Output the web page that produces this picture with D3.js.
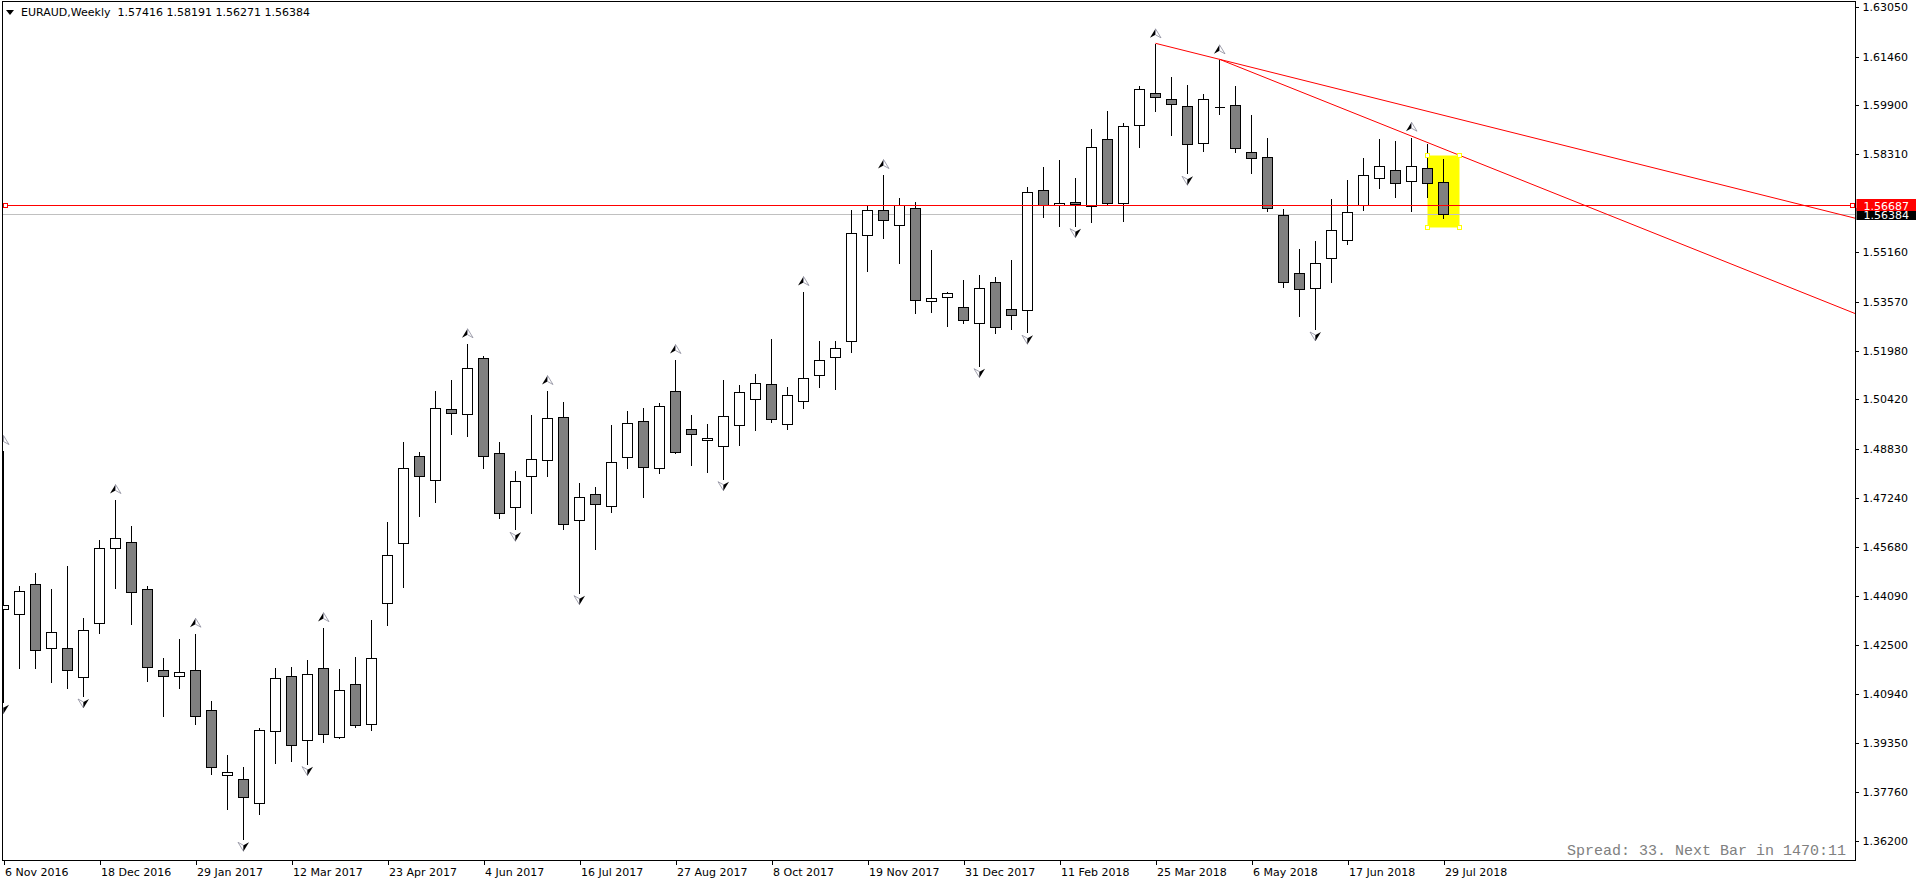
<!DOCTYPE html>
<html><head><meta charset="utf-8">
<script src="https://cdn.jsdelivr.net/npm/d3@7"></script>
<style>
html,body{margin:0;padding:0;background:#fff;overflow:hidden}
svg{display:block}
text{font-family:"DejaVu Sans",sans-serif;font-size:11px}
</style></head><body>
<script>
// ---------- data ----------
const titleText = "EURAUD,Weekly  1.57416 1.58191 1.56271 1.56384";
const spreadText = "Spread: 33. Next Bar in 1470:11";
const xTickIndex = [0,6,12,18,24,30,36,42,48,54,60,66,72,78,84,90];
const xTickLabels = ["6 Nov 2016","18 Dec 2016","29 Jan 2017","12 Mar 2017","23 Apr 2017","4 Jun 2017","16 Jul 2017","27 Aug 2017","8 Oct 2017","19 Nov 2017","31 Dec 2017","11 Feb 2018","25 Mar 2018","6 May 2018","17 Jun 2018","29 Jul 2018"];
const yTickValues = [1.63050,1.61460,1.59900,1.58310,1.55160,1.53570,1.51980,1.50420,1.48830,1.47240,1.45680,1.44090,1.42500,1.40940,1.39350,1.37760,1.36200];

const open  = [1.43660,1.43498,1.44465,1.42423,1.42403,1.41488,1.43208,1.45624,1.45817,1.44304,1.41695,1.41501,1.41695,1.40406,1.38312,1.38184,1.37436,1.39727,1.41498,1.39437,1.41762,1.39543,1.41244,1.39955,1.43856,1.45789,1.48584,1.47811,1.50101,1.49940,1.51747,1.48684,1.46945,1.47943,1.48459,1.49844,1.46526,1.47364,1.46977,1.48555,1.49715,1.48201,1.50681,1.49457,1.49103,1.48910,1.49586,1.50424,1.50907,1.49618,1.50359,1.51197,1.51776,1.52292,1.55706,1.56511,1.56028,1.56576,1.53580,1.53709,1.53387,1.52872,1.54192,1.53322,1.53290,1.57155,1.56672,1.56769,1.56640,1.58798,1.56756,1.59249,1.60280,1.60087,1.59861,1.58669,1.59829,1.59893,1.58379,1.58218,1.56350,1.54482,1.53999,1.54965,1.55545,1.56682,1.57542,1.57800,1.57445,1.57864,1.57416];
const high  = [1.48790,1.44442,1.44851,1.44336,1.45086,1.43402,1.45924,1.47212,1.46375,1.44442,1.42123,1.42735,1.42906,1.40738,1.38999,1.38612,1.39865,1.41798,1.41830,1.42062,1.43086,1.41772,1.42152,1.43350,1.46500,1.49077,1.48755,1.50723,1.51081,1.52231,1.51837,1.49080,1.48146,1.49950,1.50723,1.50369,1.47750,1.47621,1.49628,1.50079,1.50176,1.50337,1.51722,1.49950,1.49660,1.51077,1.50907,1.51271,1.52398,1.50842,1.53912,1.52334,1.52334,1.56553,1.56704,1.57680,1.56930,1.56801,1.55265,1.53902,1.54298,1.54459,1.54385,1.54943,1.57284,1.57938,1.58164,1.57584,1.59162,1.59742,1.59355,1.60547,1.61890,1.60837,1.60579,1.60280,1.61375,1.60547,1.59613,1.58872,1.56576,1.55297,1.55555,1.56898,1.57519,1.58228,1.58840,1.58776,1.58882,1.58689,1.58191];
const low   = [1.40683,1.41759,1.41759,1.41327,1.41134,1.40867,1.42886,1.44355,1.43196,1.41360,1.40232,1.41134,1.39955,1.38354,1.37217,1.36251,1.37079,1.38725,1.38783,1.38689,1.39382,1.39520,1.39875,1.39785,1.43141,1.44384,1.46674,1.47122,1.49319,1.49251,1.48204,1.46590,1.46236,1.46771,1.47963,1.46236,1.44194,1.45611,1.46803,1.48220,1.47286,1.48059,1.48684,1.48317,1.48092,1.47866,1.48942,1.49444,1.49702,1.49476,1.50134,1.50829,1.50765,1.51937,1.54566,1.55629,1.54823,1.53193,1.53226,1.52775,1.52872,1.51506,1.52569,1.52678,1.52582,1.56305,1.56015,1.56015,1.56144,1.56700,1.56176,1.58560,1.59719,1.58946,1.57703,1.58431,1.59623,1.58399,1.57722,1.56498,1.54031,1.53116,1.52688,1.54211,1.55416,1.56521,1.57239,1.56949,1.56498,1.56949,1.56271];
const close = [1.43788,1.44239,1.42339,1.42919,1.41695,1.42983,1.45624,1.45946,1.44226,1.41811,1.41501,1.41630,1.40213,1.38570,1.38419,1.37604,1.39759,1.41463,1.39276,1.41566,1.39633,1.41047,1.39920,1.42084,1.45396,1.48204,1.47940,1.50159,1.49976,1.51425,1.48584,1.46752,1.47782,1.48491,1.49811,1.46397,1.47267,1.47041,1.48394,1.49650,1.48233,1.50198,1.48716,1.49296,1.49167,1.49876,1.50649,1.50939,1.49779,1.50552,1.51100,1.51680,1.52066,1.55770,1.56511,1.56189,1.56672,1.53612,1.53677,1.53838,1.52968,1.53999,1.52743,1.53129,1.57091,1.56682,1.56737,1.56724,1.58540,1.56737,1.59217,1.60409,1.60151,1.59925,1.58637,1.60087,1.59826,1.58508,1.58186,1.56576,1.54192,1.53967,1.54804,1.55867,1.56447,1.57639,1.57928,1.57381,1.57928,1.57381,1.56384];

const upFractals   = [0,7,12,20,29,34,42,50,55,72,76,88];
const downFractals = [0,5,15,19,32,36,45,61,64,67,74,82];

const levelPrice = 1.56687;
const bidPrice = 1.56384;
const trendFromBar   = [72, 76];
const trendFromPrice = [1.61890, 1.61375];
const trendToBar     = [90, 90];
const trendToPrice   = [1.59571, 1.58489];
const boxBars   = [89, 91];
const boxPrices = [1.58292, 1.55964];

// ---------- layout ----------
const W = 1916, H = 884;
const plotL = 2.5, plotT = 1.5, plotR = 1855.5, plotB = 860.5;

const svg = d3.select("body").append("svg").attr("width", W).attr("height", H);
svg.append("rect").attr("width", W).attr("height", H).attr("fill", "#fff");

const x = d3.scaleLinear().domain([0, 90]).range([3.5, 1443.5]);
const y = d3.scaleLinear().domain([1.362, 1.6305]).range([840.9, 7.3]);
const py = v => Math.round(y(v)) + 0.5;

svg.append("defs").append("clipPath").attr("id", "plot")
  .append("rect").attr("x", 3).attr("y", 2).attr("width", plotR - 3.5).attr("height", plotB - 2.5);

const g = svg.append("g").attr("clip-path", "url(#plot)");

// yellow rectangle (background object)
const bx0 = x(boxBars[0]), bx1 = x(boxBars[1]);
const by0 = py(boxPrices[0]), by1 = py(boxPrices[1]);
g.append("rect").attr("x", bx0).attr("y", by0).attr("width", bx1 - bx0).attr("height", by1 - by0)
  .attr("fill", "#ffff00");

// bid line
g.append("line").attr("x1", 3).attr("x2", plotR).attr("y1", py(bidPrice)).attr("y2", py(bidPrice))
  .attr("stroke", "#c0c0c0").attr("stroke-width", 1);

// candles
const idx = d3.range(open.length);
const cg = g.append("g").attr("shape-rendering", "crispEdges");
cg.selectAll("line.wick").data(idx).join("line").attr("class", "wick")
  .attr("x1", i => x(i)).attr("x2", i => x(i))
  .attr("y1", i => py(high[i])).attr("y2", i => py(low[i]) + 0.5)
  .attr("stroke", "#000").attr("stroke-width", 1);
idx.forEach(i => {
  const t = py(Math.max(open[i], close[i])), b = py(Math.min(open[i], close[i]));
  const bull = close[i] >= open[i];
  if (b - t < 1) {
    cg.append("line").attr("x1", x(i) - 5).attr("x2", x(i) + 5).attr("y1", t).attr("y2", t)
      .attr("stroke", "#000");
  } else {
    cg.append("rect").attr("x", x(i) - 5).attr("y", t).attr("width", 10).attr("height", b - t)
      .attr("fill", bull ? "#ffffff" : "#808080").attr("stroke", "#000").attr("stroke-width", 1);
  }
});

// horizontal level line
g.append("line").attr("x1", 3).attr("x2", plotR).attr("y1", py(levelPrice)).attr("y2", py(levelPrice))
  .attr("stroke", "#ff0000").attr("stroke-width", 1).attr("shape-rendering", "crispEdges");

// trend lines (rays)
trendFromBar.forEach((b0, k) => {
  const x1 = x(b0), y1 = y(trendFromPrice[k]);
  const x2 = x(trendToBar[k]), y2 = y(trendToPrice[k]);
  const s = (y2 - y1) / (x2 - x1);
  g.append("line").attr("x1", x1).attr("y1", y1).attr("x2", plotR).attr("y2", y1 + s * (plotR - x1))
    .attr("stroke", "#ff0000").attr("stroke-width", 1);
});

// fractal arrows
const ag = g.append("g");
upFractals.forEach(i => {
  const cx = x(i), cy = y(high[i]) - 10;
  const a = ag.append("g").attr("transform", `translate(${cx},${cy})`);
  a.append("path").attr("d", "M0,-4.5 L-5.5,4.5 L0,1.5 Z").attr("fill", "#000");
  a.append("path").attr("d", "M0,-4.5 L5.5,4.5 L0,1.5 Z").attr("fill", "#fff").attr("stroke", "#8a8a9a").attr("stroke-width", 0.8);
});
downFractals.forEach(i => {
  const cx = x(i), cy = y(low[i]) + 7.5;
  const a = ag.append("g").attr("transform", `translate(${cx},${cy})`);
  a.append("path").attr("d", "M0,4.5 L-5.5,-4.5 L0,-1.5 Z").attr("fill", "#fff").attr("stroke", "#8a8a9a").attr("stroke-width", 0.8);
  a.append("path").attr("d", "M0,4.5 L5.5,-4.5 L0,-1.5 Z").attr("fill", "#000");
});

// box handles
[[bx0, by0], [bx1, by0], [bx0, by1], [bx1, by1]].forEach(([hx, hy]) => {
  g.append("rect").attr("x", hx - 2.5).attr("y", hy - 2.5).attr("width", 4).attr("height", 4)
    .attr("fill", "#fff").attr("stroke", "#ffff00").attr("shape-rendering", "crispEdges");
});
// level line handles
[5.5, plotR - 3].forEach(hx => {
  g.append("rect").attr("x", hx - 2).attr("y", py(levelPrice) - 2).attr("width", 4).attr("height", 4)
    .attr("fill", "#fff").attr("stroke", "#ff0000").attr("shape-rendering", "crispEdges");
});

// frame
svg.append("rect").attr("x", plotL).attr("y", plotT).attr("width", plotR - plotL).attr("height", plotB - plotT)
  .attr("fill", "none").attr("stroke", "#000").attr("shape-rendering", "crispEdges");

// right price axis
const yAxis = d3.axisRight(y).tickValues(yTickValues).tickSize(3).tickPadding(4).tickFormat(d3.format(".5f"));
const ya = svg.append("g").attr("transform", `translate(${plotR},0)`).call(yAxis);
ya.select(".domain").remove();
ya.selectAll("line").attr("stroke", "#000").attr("shape-rendering", "crispEdges");
ya.selectAll("text").attr("fill", "#000").style("font-family", '"DejaVu Sans",sans-serif').style("font-size", "11px");

// price labels
function priceLabel(p, bg) {
  const yy = py(p);
  svg.append("rect").attr("x", plotR + 1).attr("y", yy - 6.5).attr("width", W - plotR).attr("height", 12).attr("fill", bg);
  svg.append("text").attr("x", plotR + 8).attr("y", yy + 4).attr("fill", "#fff").text(d3.format(".5f")(p));
}
priceLabel(bidPrice, "#000000");
priceLabel(levelPrice, "#ff0000");

// bottom time axis
const xAxis = d3.axisBottom(x).tickValues(xTickIndex).tickSize(4).tickPadding(4)
  .tickFormat((d, k) => xTickLabels[k]);
const xa = svg.append("g").attr("transform", `translate(0,${plotB})`).call(xAxis);
xa.select(".domain").remove();
xa.selectAll("line").attr("stroke", "#000").attr("shape-rendering", "crispEdges");
xa.selectAll("text").attr("text-anchor", "start").attr("x", 1).attr("fill", "#000")
  .style("font-family", '"DejaVu Sans",sans-serif').style("font-size", "11px");

// title
svg.append("path").attr("d", "M6,10 L14,10 L10,15 Z").attr("fill", "#000");
svg.append("text").attr("x", 21).attr("y", 16).attr("fill", "#000").attr("xml:space", "preserve")
  .style("white-space", "pre").text(titleText);

// spread text
svg.append("text").attr("x", 1846).attr("y", 855).attr("text-anchor", "end").attr("fill", "#808080")
  .style("font-family", '"Liberation Mono",monospace').style("font-size", "15px").text(spreadText);
</script>
</body></html>
